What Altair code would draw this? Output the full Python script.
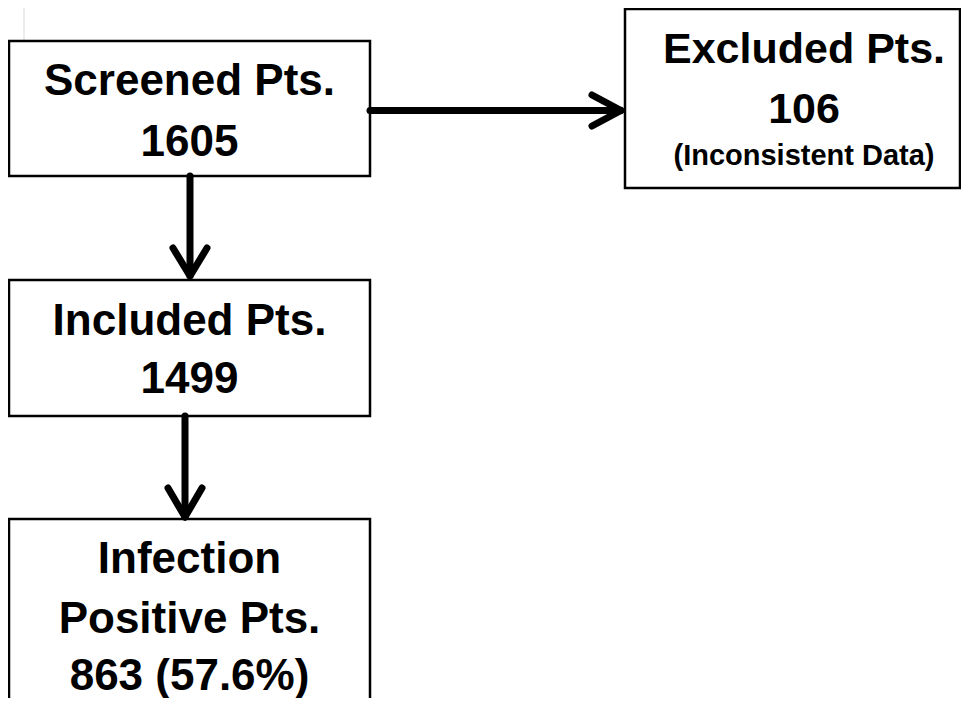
import altair as alt
import pandas as pd

# Flowchart content
box_names = ["Screened", "Excluded", "Included", "Infection"]
box_x1 = [9, 625, 9, 9]
box_x2 = [370, 960, 370, 370]
box_y1 = [41, 9, 280, 519]
box_y2 = [176, 188, 416, 730]

text_labels = ["Screened Pts.", "1605",
               "Excluded Pts.", "106", "(Inconsistent Data)",
               "Included Pts.", "1499",
               "Infection", "Positive Pts.", "863 (57.6%)"]
text_x = [189.5, 189.5, 804, 804, 804, 189.5, 189.5, 189.5, 189.5, 189.5]
text_y = [95, 156, 63, 123, 165, 335, 393, 573, 633, 690]
text_size = [44, 44, 43, 43, 29, 44, 44, 44, 44, 44]

# arrow segments: shafts and chevron heads
seg_x1 = [370, 592, 592, 190, 173, 207, 185, 168, 202]
seg_y1 = [110.5, 95, 126, 176, 248, 248, 416, 488, 488]
seg_x2 = [619, 621, 621, 190, 190, 190, 185, 185, 185]
seg_y2 = [110.5, 110.5, 110.5, 274, 276, 276, 515, 517, 517]

# faint guide lines in the corner
guide_x1 = [24, 8]
guide_y1 = [8, 160]
guide_x2 = [24, 24]
guide_y2 = [160, 160]

W, H = 953, 690
xs = alt.Scale(domain=[8, 8 + W], nice=False, zero=False)
ys = alt.Scale(domain=[8 + H, 8], nice=False, zero=False)

boxes = pd.DataFrame({"name": box_names, "x1": box_x1, "x2": box_x2,
                      "y1": box_y1, "y2": box_y2})
texts = pd.DataFrame({"label": text_labels, "x": text_x, "y": text_y,
                      "size": text_size})
segs = pd.DataFrame({"x1": seg_x1, "y1": seg_y1, "x2": seg_x2, "y2": seg_y2})
guides = pd.DataFrame({"x1": guide_x1, "y1": guide_y1,
                       "x2": guide_x2, "y2": guide_y2})

guide_layer = alt.Chart(guides).mark_rule(color="#d9d9d9", strokeWidth=1).encode(
    x=alt.X("x1:Q", scale=xs, axis=None),
    x2="x2:Q",
    y=alt.Y("y1:Q", scale=ys, axis=None),
    y2="y2:Q",
)

box_layer = alt.Chart(boxes).mark_rect(
    fill="white", stroke="black", strokeWidth=2.5
).encode(
    x=alt.X("x1:Q", scale=xs, axis=None),
    x2="x2:Q",
    y=alt.Y("y1:Q", scale=ys, axis=None),
    y2="y2:Q",
)

seg_layer = alt.Chart(segs).mark_rule(
    color="black", strokeWidth=7, strokeCap="round"
).encode(
    x=alt.X("x1:Q", scale=xs, axis=None),
    x2="x2:Q",
    y=alt.Y("y1:Q", scale=ys, axis=None),
    y2="y2:Q",
)

text_layer = alt.Chart(texts).mark_text(
    font="Liberation Sans", fontWeight="bold", align="center",
    baseline="alphabetic", color="black"
).encode(
    x=alt.X("x:Q", scale=xs, axis=None),
    y=alt.Y("y:Q", scale=ys, axis=None),
    text="label:N",
    size=alt.Size("size:Q", scale=None, legend=None),
)

chart = alt.layer(guide_layer, box_layer, seg_layer, text_layer).properties(
    width=W, height=H, padding=0, autosize=alt.AutoSizeParams(type="none"),
    background="white"
).configure_view(stroke=None)

chart.save("out.html", embed_options={"renderer": "svg", "actions": False})
